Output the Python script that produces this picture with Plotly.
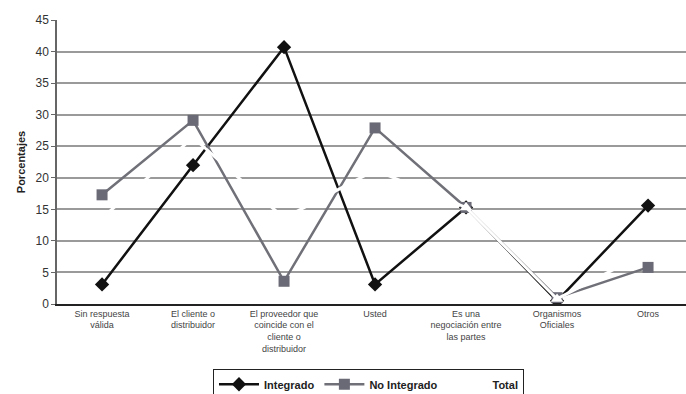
import plotly.graph_objects as go

# Categorías de respuesta (eje X)
categorias = [
    "Sin respuesta<br>válida",
    "El cliente o<br>distribuidor",
    "El proveedor que<br>coincide con el<br>cliente o<br>distribuidor",
    "Usted",
    "Es una<br>negociación entre<br>las partes",
    "Organismos<br>Oficiales",
    "Otros",
]

# Porcentajes por tipo de empresa
integrado = [3.1, 22.0, 40.7, 3.1, 15.3, 0.5, 15.6]
no_integrado = [17.3, 29.1, 3.6, 27.9, 15.3, 1.0, 5.8]
total = [13.6, 26.4, 13.6, 21.2, 15.3, 0.8, 8.3]

y_ticks = [0, 5, 10, 15, 20, 25, 30, 35, 40, 45]

fig = go.Figure()

fig.add_trace(go.Scatter(
    x=categorias, y=integrado, name="Integrado", mode="lines+markers",
    line=dict(color="#111111", width=2.5),
    marker=dict(symbol="diamond", size=11, color="#111111"),
))
fig.add_trace(go.Scatter(
    x=categorias, y=no_integrado, name="No Integrado", mode="lines+markers",
    line=dict(color="#707078", width=2.5),
    marker=dict(symbol="square", size=11, color="#6a6a76"),
))
# Serie "Total" en blanco: sólo se aprecia sobre la cuadrícula y las otras líneas
fig.add_trace(go.Scatter(
    x=categorias, y=total, name="Total", mode="lines+markers",
    line=dict(color="#ffffff", width=3),
    marker=dict(symbol="triangle-up", size=11, color="#ffffff",
                line=dict(color="#ffffff", width=0)),
))

fig.update_layout(
    width=686, height=394,
    margin=dict(l=57, r=0, t=20, b=90, autoexpand=False),
    paper_bgcolor="white", plot_bgcolor="white",
    font=dict(family="Liberation Sans, Arial, sans-serif", color="#333333"),
    showlegend=True,
    legend=dict(
        orientation="h", x=0.248, xanchor="left", y=-0.228, yanchor="top",
        bordercolor="#222222", borderwidth=1, bgcolor="white",
        font=dict(size=11, color="#222222", weight="bold"),
        itemwidth=40, traceorder="normal",
    ),
    xaxis=dict(
        range=[-0.495, 6.417], showgrid=False, zeroline=False,
        showline=True, linecolor="#222222", linewidth=1.5,
        ticks="", tickfont=dict(size=9, color="#444444"), tickangle=0,
    ),
    yaxis=dict(
        range=[0, 45], tickvals=y_ticks, showgrid=True,
        gridcolor="#9a9a9a", gridwidth=1.5, zeroline=False,
        showline=True, linecolor="#666666", linewidth=1.5,
        ticks="outside", ticklen=4, tickcolor="#666666",
        tickfont=dict(size=12, color="#333333"),
        title=dict(text="Porcentajes", font=dict(size=11, color="#222222", weight="bold"), standoff=8),
    ),
)

fig.write_html("out.html")
